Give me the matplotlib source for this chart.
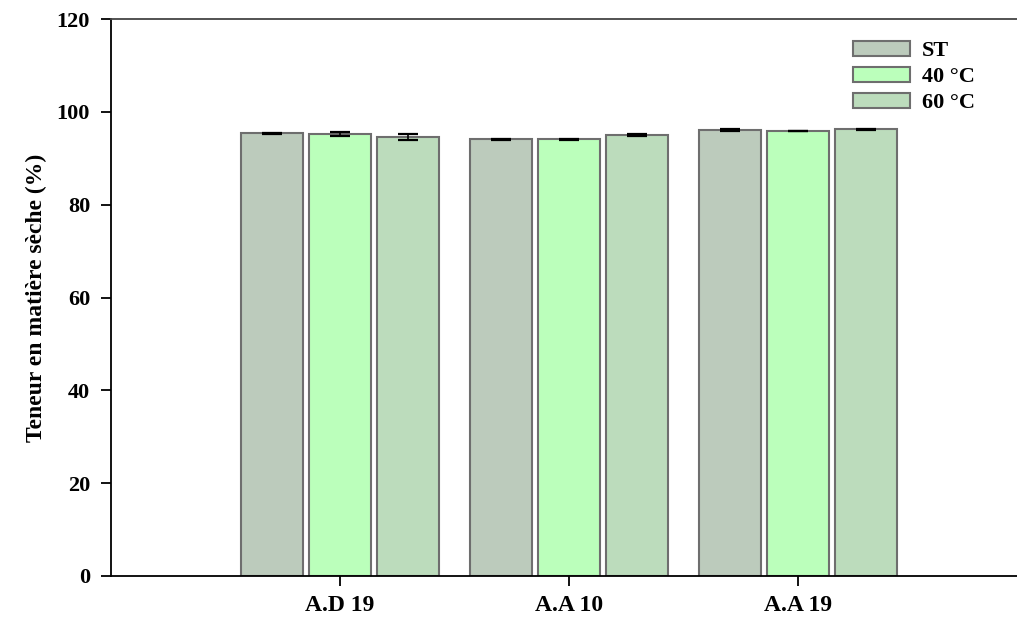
import numpy as np
import matplotlib
matplotlib.use("Agg")
import matplotlib.pyplot as plt

# data
groups = ["A.D 19", "A.A 10", "A.A 19"]
series = ["ST", "40 °C", "60 °C"]
st_vals = [95.4, 94.1, 96.1]
t40_vals = [95.2, 94.1, 95.9]
t60_vals = [94.6, 95.0, 96.3]
st_err = [0.1, 0.15, 0.15]
t40_err = [0.4, 0.15, 0.1]
t60_err = [0.6, 0.15, 0.1]

colors = ["#bccbbc", "#bbffbb", "#bcdcbc"]
edge = "#6e6e6e"

plt.rcParams["font.family"] = ["Liberation Serif", "DejaVu Serif"]
plt.rcParams["font.weight"] = "bold"

fig = plt.figure(figsize=(10.17, 6.18), dpi=100)
ax = fig.add_axes([0.1091, 0.068, 0.9007, 0.901])

x = np.arange(len(groups))
step = 0.297
width = 0.268
vals = [st_vals, t40_vals, t60_vals]
errs = [st_err, t40_err, t60_err]
for i, (v, e, c, lab) in enumerate(zip(vals, errs, colors, series)):
    ax.bar(x + (i - 1) * step, v, width, color=c, edgecolor=edge, linewidth=1.5,
           label=lab, zorder=2)
    ax.errorbar(x + (i - 1) * step, v, yerr=e, fmt="none", ecolor="black",
                elinewidth=1.2, capsize=7, capthick=1.6, zorder=3)

ax.set_xlim(-1.0, 3.0)
ax.set_ylim(0, 120)
ax.set_yticks(range(0, 121, 20))
ax.set_xticks(x)
ax.set_xticklabels(groups, fontsize=17, fontweight="bold")
ax.tick_params(axis="y", labelsize=16, direction="out", length=7, width=1.3, pad=8)
ax.tick_params(axis="x", direction="out", length=7, width=1.3, pad=7)
for lab in ax.get_yticklabels():
    lab.set_fontweight("bold")
ax.set_ylabel("Teneur en matière sèche (%)", fontsize=17, fontweight="bold", labelpad=7)

ax.spines["right"].set_visible(False)
for s in ["left", "bottom", "top"]:
    ax.spines[s].set_linewidth(1.3)
ax.spines["top"].set_color("#444444")

leg = ax.legend(loc="upper left", bbox_to_anchor=(0.81, 0.961), frameon=False,
                fontsize=16, handlelength=2.57, handleheight=0.68,
                labelspacing=0.25, handletextpad=0.55, borderpad=0, borderaxespad=0)
for t in leg.get_texts():
    t.set_fontweight("bold")

fig.savefig("out.png", dpi=100)
